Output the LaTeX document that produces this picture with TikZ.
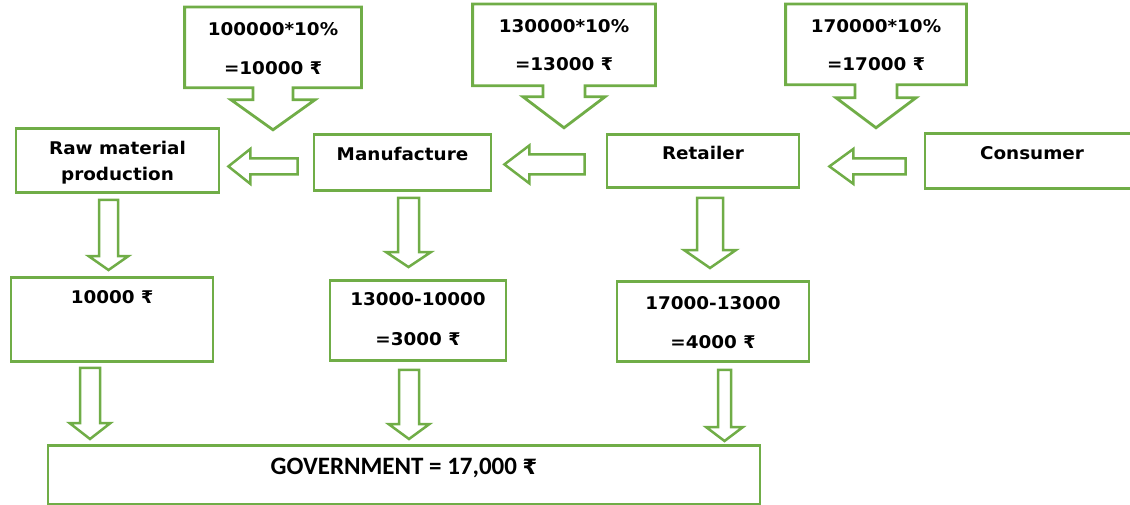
\documentclass[tikz,border=0pt]{standalone}
\usepackage{fontspec}
\setmainfont{DejaVu Sans}[FakeStretch=1.05]
\newfontfamily\govfont{Carlito}
\newfontfamily\rsfont{DejaVu Sans}
\usetikzlibrary{calc}

\definecolor{leaf}{HTML}{70AD47}
\newcommand{\rs}{{\rsfont\bfseries ₹}}

\begin{document}
\begin{tikzpicture}
 [
  x=1pt, y=-1pt,
  box/.style    = {draw=leaf, line width=2.8pt, anchor=north, inner ysep=0pt,
                   inner xsep=0pt, font=\fontsize{17.5}{20}\selectfont\bfseries},
  callout/.style= {draw=leaf, line width=2.8pt, line join=miter},
  hollow/.style = {draw=leaf, line width=2.5pt, fill=white, line join=miter},
  % hollow arrow going down: shaft half width, head half width, head length
  varrow/.style n args = {3}{hollow, to path={
    ([xshift=-#1]\tikztostart) -- ([xshift=-#1,yshift=#3]\tikztostart |- \tikztotarget)
    -- ([xshift=-#2,yshift=#3]\tikztostart |- \tikztotarget) -- (\tikztostart |- \tikztotarget)
    -- ([xshift=#2,yshift=#3]\tikztostart |- \tikztotarget) -- ([xshift=#1,yshift=#3]\tikztostart |- \tikztotarget)
    -- ([xshift=#1]\tikztostart) -- cycle}},
  % hollow arrow going left
  harrow/.style n args = {3}{hollow, to path={
    ([yshift=#1]\tikztostart) -- ([xshift=#3,yshift=#1]\tikztostart -| \tikztotarget)
    -- ([xshift=#3,yshift=#2]\tikztostart -| \tikztotarget) -- (\tikztostart -| \tikztotarget)
    -- ([xshift=#3,yshift=-#2]\tikztostart -| \tikztotarget) -- ([xshift=#3,yshift=-#1]\tikztostart -| \tikztotarget)
    -- ([yshift=-#1]\tikztostart) -- cycle}},
 ]
 \useasboundingbox (0,0) rectangle (1130,504);

 % tax boxes on top
 \node[box, draw=none, minimum width=174pt, text height=27pt, text depth=51pt] (tax1) at (273,7)
  {\begin{tabular}[t]{@{}c@{}}100000*10\%\\[19pt]=10000 \rs\end{tabular}};
 \node[box, draw=none, minimum width=180pt, text height=27pt, text depth=52pt] (tax2) at (564,4)
  {\begin{tabular}[t]{@{}c@{}}130000*10\%\\[18pt]=13000 \rs\end{tabular}};
 \node[box, draw=none, minimum width=178pt, text height=27pt, text depth=51pt] (tax3) at (876,4)
  {\begin{tabular}[t]{@{}c@{}}170000*10\%\\[18pt]=17000 \rs\end{tabular}};

 \foreach \t/\w/\W/\s/\h in {tax1/20/42/12/30, tax2/21/41/11/31, tax3/21/40/13/30}
 {
  \draw[callout] (\t.south west) -- (\t.north west) -- (\t.north east) -- (\t.south east)
   -- ([xshift=\w pt]\t.south) -- ++(0,\s) -- ++(\W-\w,0) -- ++(-\W,\h) -- ++(-\W,-\h)
   -- ++(\W-\w,0) -- ++(0,-\s) -- cycle;
 }

 % chain
 \node[box, minimum width=203pt, text height=26pt, text depth=38pt] (raw) at (117.5,127)
  {\begin{tabular}[t]{@{}c@{}}Raw material\\[6pt]production\end{tabular}};
 \node[box, minimum width=177pt, text height=26pt, text depth=30pt] (manuf) at (402.5,133) {Manufacture};
 \node[box, minimum width=192pt, text height=25pt, text depth=28pt] (retail) at (703,133) {Retailer};
 \node[box, minimum width=214pt, text height=26pt, text depth=29pt] (consumer) at (1032,132) {Consumer};

 % value added
 \node[box, minimum width=202pt, text height=26pt, text depth=58pt] (va1) at (112,276) {10000 \rs};
 \node[box, minimum width=176pt, text height=25pt, text depth=55pt] (va2) at (418,279)
  {\begin{tabular}[t]{@{}c@{}}13000-10000\\[20pt]=3000 \rs\end{tabular}};
 \node[box, minimum width=192pt, text height=28pt, text depth=52pt] (va3) at (713,280)
  {\begin{tabular}[t]{@{}c@{}}17000-13000\\[19pt]=4000 \rs\end{tabular}};

 \node[box, minimum width=712pt, text height=29.5pt, text depth=29.5pt,
       font=\govfont\fontsize{25}{30}\selectfont\bfseries] (gov) at (404,444)
  {GOVERNMENT = 17,000 {\fontsize{21}{25}\selectfont\rs}};

 % arrows
 \draw[harrow={8pt}{17.5pt}{22pt}] ([xshift=-15pt,yshift=-4pt]manuf.west) to ([xshift=8pt]raw.east);
 \draw[harrow={10pt}{19pt}{25pt}] ([xshift=-21pt,yshift=-3.5pt]retail.west) to ([xshift=12pt]manuf.east);
 \draw[harrow={8pt}{17.5pt}{24pt}] ([xshift=-18pt,yshift=-5.5pt]consumer.west) to ([xshift=29pt]retail.east);

 \draw[varrow={9.5pt}{20pt}{14pt}] ([xshift=-9pt,yshift=-6pt]raw.south) to ([yshift=6pt]va1.north);
 \draw[varrow={10.5pt}{22.5pt}{15pt}] ([xshift=6pt,yshift=-6pt]manuf.south) to ([yshift=12pt]va2.north);
 \draw[varrow={13pt}{26pt}{18pt}] ([xshift=7pt,yshift=-9pt]retail.south) to ([yshift=12pt]va3.north);

 \draw[varrow={10pt}{20.5pt}{16pt}] ([xshift=-22pt,yshift=-5pt]va1.south) to ([yshift=5pt]gov.north);
 \draw[varrow={10pt}{20.5pt}{15pt}] ([xshift=-9pt,yshift=-8pt]va2.south) to ([yshift=5pt]gov.north);
 \draw[varrow={6.5pt}{18.5pt}{14pt}] ([xshift=11.5pt,yshift=-7pt]va3.south) to ([yshift=3pt]gov.north);
\end{tikzpicture}
\end{document}
